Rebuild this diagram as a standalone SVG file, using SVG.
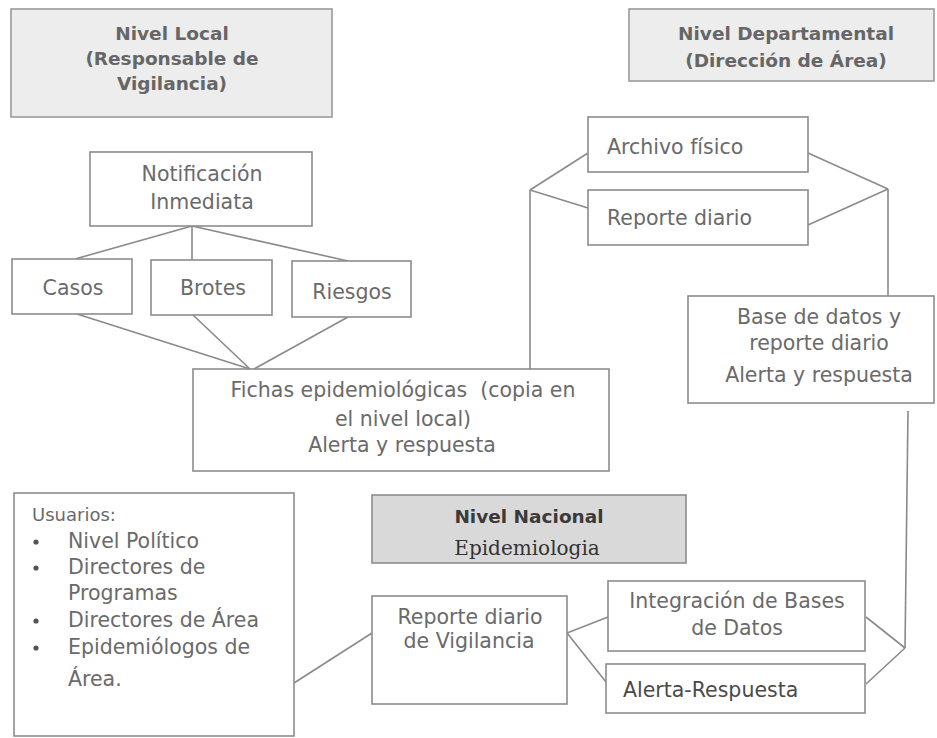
<svg xmlns="http://www.w3.org/2000/svg" width="937" height="738" viewBox="0 0 937 738">
<style>
.bx{fill:#ffffff;stroke:#8c8c8c;stroke-width:1.6}
.hd{fill:#ededed;stroke:#9a9a9a;stroke-width:1.6}
.nn{fill:#d9d9d9;stroke:#8c8c8c;stroke-width:1.6}
.t{font-family:"DejaVu Sans",sans-serif;font-size:20.5px;fill:#6a6a6a}
.c{text-anchor:middle}
.u{font-size:20.5px}
.h{font-family:"DejaVu Sans",sans-serif;font-size:18.5px;font-weight:bold;fill:#666666;text-anchor:middle}
.cn line{stroke:#8a8a8a;stroke-width:1.6;fill:none}
</style>
<rect width="937" height="738" fill="#ffffff"/>
<g id="connectors" class="cn">
<line x1="192" y1="226" x2="75" y2="259"/>
<line x1="192" y1="226" x2="192" y2="260"/>
<line x1="192" y1="226" x2="348" y2="261"/>
<line x1="77" y1="314" x2="250" y2="369"/>
<line x1="193" y1="315" x2="250" y2="369"/>
<line x1="348" y1="317" x2="254" y2="369"/>
<line x1="530" y1="369" x2="530" y2="190"/>
<line x1="530" y1="190" x2="588" y2="153"/>
<line x1="530" y1="190" x2="588" y2="208"/>
<line x1="808" y1="153" x2="888" y2="189"/>
<line x1="808" y1="225" x2="888" y2="189"/>
<line x1="888" y1="189" x2="888" y2="296"/>
<line x1="908" y1="411" x2="905" y2="648"/>
<line x1="905" y1="648" x2="866" y2="617"/>
<line x1="905" y1="648" x2="866" y2="684"/>
<line x1="567" y1="633" x2="608" y2="617"/>
<line x1="567" y1="633" x2="606" y2="682"/>
<line x1="294" y1="683" x2="372" y2="633"/>
</g>
<g id="nivel-local">
<rect class="hd" x="11" y="9" width="321" height="108"/>
<text class="h" x="172" y="40">Nivel Local</text>
<text class="h" x="172" y="65">(Responsable de</text>
<text class="h" x="172" y="90">Vigilancia)</text>
</g>
<g id="nivel-departamental">
<rect class="hd" x="629" y="9" width="305" height="72"/>
<text class="h" x="786" y="40">Nivel Departamental</text>
<text class="h" x="786" y="67">(Dirección de Área)</text>
</g>
<g id="notificacion">
<rect class="bx" x="90" y="152" width="222" height="74"/>
<text class="t c" x="202" y="181">Notificación</text>
<text class="t c" x="202" y="209">Inmediata</text>
</g>
<g id="casos">
<rect class="bx" x="12" y="259" width="120" height="55"/>
<text class="t c" x="73" y="295">Casos</text>
</g>
<g id="brotes">
<rect class="bx" x="151" y="260" width="121" height="55"/>
<text class="t c" x="213" y="295">Brotes</text>
</g>
<g id="riesgos">
<rect class="bx" x="292" y="261" width="119" height="56"/>
<text class="t c" x="352" y="299">Riesgos</text>
</g>
<g id="fichas">
<rect class="bx" x="193" y="369" width="416" height="102"/>
<text class="t c" x="403" y="397" xml:space="preserve">Fichas epidemiológicas  (copia en</text>
<text class="t c" x="403" y="426">el nivel local)</text>
<text class="t c" x="402" y="452">Alerta y respuesta</text>
</g>
<g id="archivo-fisico">
<rect class="bx" x="588" y="117" width="220" height="55"/>
<text class="t" x="607" y="154">Archivo físico</text>
</g>
<g id="reporte-diario">
<rect class="bx" x="588" y="190" width="220" height="55"/>
<text class="t" x="607" y="225">Reporte diario</text>
</g>
<g id="base-datos">
<rect class="bx" x="688" y="296" width="246" height="107"/>
<text class="t c" x="819" y="324">Base de datos y</text>
<text class="t c" x="819" y="350">reporte diario</text>
<text class="t c" x="819" y="382">Alerta y respuesta</text>
</g>
<g id="usuarios">
<rect class="bx" x="14" y="493" width="280" height="243"/>
<text class="t" x="32" y="521" style="font-size:18px">Usuarios:</text>
<g fill="#555555">
<circle cx="36" cy="542" r="2.6"/>
<circle cx="36" cy="568" r="2.6"/>
<circle cx="36" cy="621" r="2.6"/>
<circle cx="36" cy="648" r="2.6"/>
</g>
<text class="t u" x="68" y="548">Nivel Político</text>
<text class="t u" x="68" y="574">Directores de</text>
<text class="t u" x="68" y="600">Programas</text>
<text class="t u" x="68" y="627">Directores de Área</text>
<text class="t u" x="68" y="654">Epidemiólogos de</text>
<text class="t u" x="68" y="686">Área.</text>
</g>
<g id="nivel-nacional">
<rect class="nn" x="372" y="495" width="314" height="68"/>
<text class="h" x="529" y="523" style="fill:#3a3a3a">Nivel Nacional</text>
<text x="527" y="555" style="font-family:'DejaVu Serif',serif;font-size:20px;fill:#333333;text-anchor:middle">Epidemiologia</text>
</g>
<g id="reporte-vigilancia">
<rect class="bx" x="372" y="596" width="195" height="108"/>
<text class="t c" x="470" y="624">Reporte diario</text>
<text class="t c" x="469" y="648">de Vigilancia</text>
</g>
<g id="integracion">
<rect class="bx" x="608" y="581" width="257" height="70"/>
<text class="t c" x="737" y="608">Integración de Bases</text>
<text class="t c" x="737" y="635">de Datos</text>
</g>
<g id="alerta-respuesta">
<rect class="bx" x="606" y="664" width="259" height="49"/>
<text class="t" x="623" y="697" style="fill:#4a4a4a">Alerta-Respuesta</text>
</g>
</svg>
